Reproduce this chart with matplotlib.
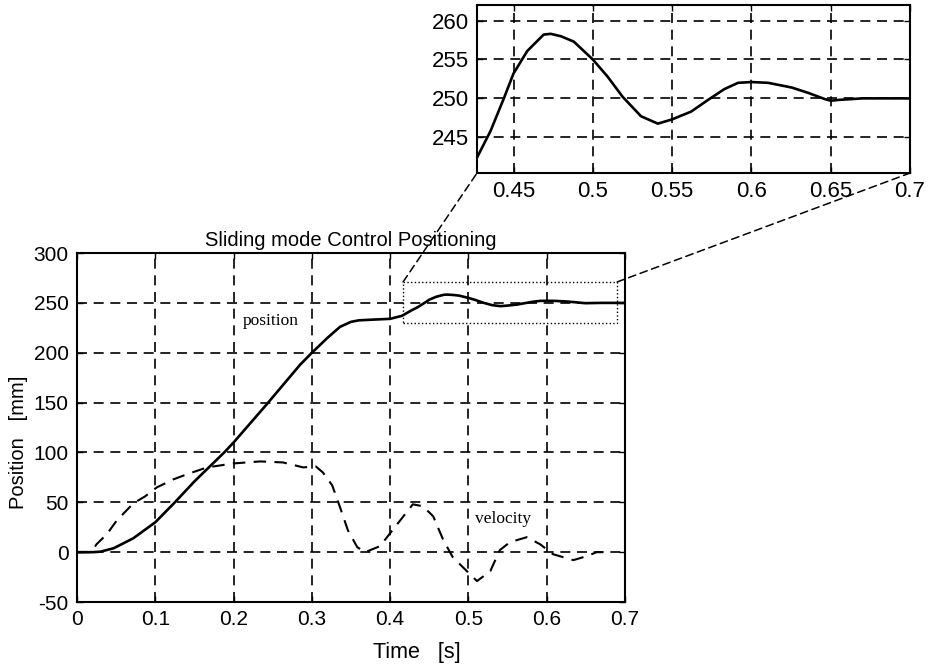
import matplotlib
matplotlib.use("Agg")
import matplotlib.pyplot as plt
from matplotlib.patches import Rectangle, ConnectionPatch

# ---- data ----
t_pos = [0, 0.02, 0.03, 0.047, 0.072, 0.1, 0.125, 0.15, 0.188, 0.2, 0.242, 0.285,
         0.3, 0.32, 0.336, 0.35, 0.36, 0.38, 0.4, 0.415, 0.427, 0.4355, 0.4439,
         0.45, 0.4587, 0.469, 0.4734, 0.4797, 0.488, 0.5, 0.5093, 0.5188, 0.5304,
         0.541, 0.55, 0.562, 0.5726, 0.583, 0.5916, 0.6, 0.6105, 0.6253, 0.6359,
         0.6464, 0.65, 0.6548, 0.67, 0.7]
position = [0, 0, 0.5, 4, 14, 30, 50, 71, 100, 110, 148, 188,
            200, 215, 226, 231, 232.5, 233.3, 234, 237, 242.4, 245.8, 250,
            253.2, 256.1, 258.2, 258.3, 258.0, 257.3, 255, 252.8, 250.2, 247.7,
            246.75, 247.3, 248.3, 249.8, 251.2, 252, 252.1, 252, 251.4, 250.7,
            249.9, 249.7, 249.8, 250, 250]

t_vel = [0, 0.018, 0.025, 0.038, 0.051, 0.072, 0.087, 0.102, 0.123, 0.14, 0.166,
         0.2, 0.234, 0.263, 0.289, 0.305, 0.314, 0.326, 0.336, 0.346, 0.358,
         0.368, 0.387, 0.4, 0.413, 0.429, 0.442, 0.455, 0.468, 0.48, 0.498,
         0.511, 0.528, 0.54, 0.553, 0.5745, 0.5915, 0.608, 0.634, 0.651, 0.664,
         0.672]
velocity = [0, 0, 8, 18, 32, 49, 56, 65, 73, 78, 85,
            89, 91, 90, 85, 86, 80, 67, 45, 22, 5,
            0, 6, 19, 32, 48, 46, 36, 12, -5, -19,
            -29, -19, 2, 10, 15, 8, -2, -8, -4, 0,
            0]

main_xticks = [0, 0.1, 0.2, 0.3, 0.4, 0.5, 0.6, 0.7]
main_xlabels = ["0", "0.1", "0.2", "0.3", "0.4", "0.5", "0.6", "0.7"]
main_yticks = [-50, 0, 50, 100, 150, 200, 250, 300]
inset_xticks = [0.45, 0.5, 0.55, 0.6, 0.65, 0.7]
inset_xlabels = ["0.45", "0.5", "0.55", "0.6", "0.65", "0.7"]
inset_yticks = [245, 250, 255, 260]
zoom_box = (0.4165, 230, 0.69, 271)  # x0, y0, x1, y1

plt.rcParams['font.family'] = ['Liberation Sans', 'DejaVu Sans']
plt.rcParams['axes.unicode_minus'] = False

fig = plt.figure(figsize=(9.35, 6.65), dpi=100)

grid_kw = dict(color='black', linewidth=1.2, linestyle=(0, (6, 4)))


def style(ax, fs):
    for s in ax.spines.values():
        s.set_linewidth(1.5)
        s.set_color('black')
    ax.tick_params(direction='in', length=4, width=1, top=True, right=True,
                   labelsize=fs, pad=6, colors='black')
    ax.grid(True, **grid_kw)
    ax.set_axisbelow(True)


# ---- main axes ----
ax = fig.add_axes([0.0824, 0.0947, 0.586, 0.5248])
ax.plot(t_pos, position, color='black', linewidth=1.9, solid_joinstyle='round')
lv, = ax.plot(t_vel, velocity, color='black', linewidth=1.5)
lv.set_dashes([6, 4])
ax.set_xlim(0, 0.7)
ax.set_ylim(-50, 300)
ax.set_xticks(main_xticks)
ax.set_xticklabels(main_xlabels)
ax.set_yticks(main_yticks)
style(ax, 15)
ax.set_title("Sliding mode Control Positioning", fontsize=14.5, pad=5)
ax.set_xlabel("Time   [s]", fontsize=15.5)
ax.xaxis.set_label_coords(0.62, -0.115)
ax.set_ylabel("Position   [mm]", fontsize=14.5)
ax.yaxis.set_label_coords(-0.09, 0.458)
ax.text(0.212, 232, "position", family=['Liberation Serif', 'DejaVu Serif'],
        fontsize=12.5, va='center', ha='left')
ax.text(0.5084, 33, "velocity", family=['Liberation Serif', 'DejaVu Serif'],
        fontsize=12.5, va='center', ha='left')

x0, y0, x1, y1 = zoom_box
ax.add_patch(Rectangle((x0, y0), x1 - x0, y1 - y0, fill=False,
                       edgecolor='black', linewidth=1.0, linestyle=':', zorder=5))

# ---- inset axes ----
axi = fig.add_axes([0.5102, 0.7398, 0.4631, 0.2526])
axi.plot(t_pos, position, color='black', linewidth=1.9)
axi.set_xlim(0.427, 0.7)
axi.set_ylim(240.4, 262)
axi.set_xticks(inset_xticks)
axi.set_xticklabels(inset_xlabels)
axi.set_yticks(inset_yticks)
style(axi, 16)

# ---- connection lines ----
for (xa, xb) in [((x0, y1), (0, 0)), ((x1, y1), (1, 0))]:
    cp = ConnectionPatch(xyA=xa, coordsA=ax.transData, xyB=xb, coordsB=axi.transAxes,
                         color='black', linewidth=1.1, linestyle=(0, (5, 3)))
    fig.add_artist(cp)

fig.savefig("out.png", dpi=100)
